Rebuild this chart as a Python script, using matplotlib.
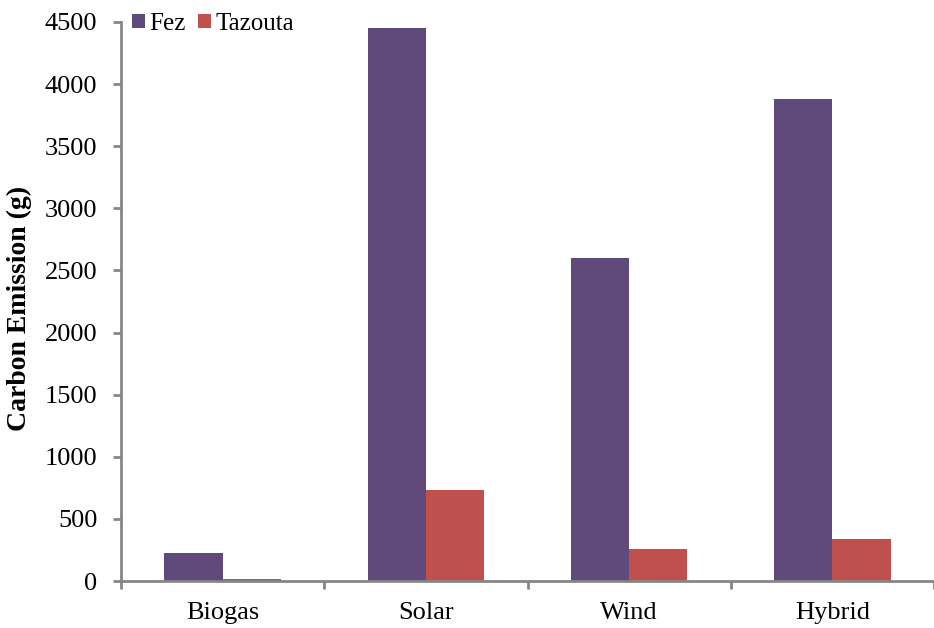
import numpy as np
import matplotlib
matplotlib.use('Agg')
import matplotlib.pyplot as plt
from matplotlib.patches import Patch

plt.rcParams['font.family'] = ['Liberation Serif', 'DejaVu Serif']

# data
categories = ['Biogas', 'Solar', 'Wind', 'Hybrid']
fez = [225, 4450, 2600, 3880]
tazouta = [20, 735, 260, 340]
series_names = ['Fez', 'Tazouta']
series_colors = ['#604A7B', '#C0504D']
y_ticks = [0, 500, 1000, 1500, 2000, 2500, 3000, 3500, 4000, 4500]

axis_gray = '#868686'

fig = plt.figure(figsize=(9.34, 6.28), dpi=100)
ax = fig.add_axes([121 / 934, 1 - 581 / 628, 1 - 121 / 934, (581 - 22) / 628])

x = np.arange(len(categories))
w = 0.287
ax.bar(x - w / 2, fez, width=w, color=series_colors[0], linewidth=0)
ax.bar(x + w / 2, tazouta, width=w, color=series_colors[1], linewidth=0)

ax.set_ylim(0, 4500)
ax.set_xlim(-0.5, 3.46)
ax.set_yticks(y_ticks)
ax.set_yticklabels([str(v) for v in y_ticks], fontsize=19)

# category ticks sit between groups, labels sit at the centers
ax.set_xticks(np.arange(len(categories) + 1) - 0.5)
ax.set_xticklabels([])
ax.set_xticks(x, minor=True)
ax.set_xticklabels(categories, minor=True, fontsize=19)
ax.tick_params(axis='x', which='minor', length=0, pad=15)
ax.tick_params(axis='x', which='major', length=6, width=2, color=axis_gray)
ax.tick_params(axis='y', length=6, width=2, color=axis_gray, pad=11)

for s in ['top', 'right']:
    ax.spines[s].set_visible(False)
for s in ['left', 'bottom']:
    ax.spines[s].set_color(axis_gray)
    ax.spines[s].set_linewidth(2)

ax.set_ylabel('Carbon Emission (g)', fontsize=20, fontweight='bold', labelpad=9, y=0.488)

handles = [Patch(facecolor=c, edgecolor='none', label=n) for n, c in zip(series_names, series_colors)]
fig.legend(handles=handles, loc='center left', bbox_to_anchor=(132 / 934, 1 - 24 / 628),
           ncol=2, frameon=False, fontsize=18, handlelength=0.5, handleheight=0.5,
           handletextpad=0.2, columnspacing=0.5, borderaxespad=0, borderpad=0)

fig.savefig('out.png', dpi=100)
